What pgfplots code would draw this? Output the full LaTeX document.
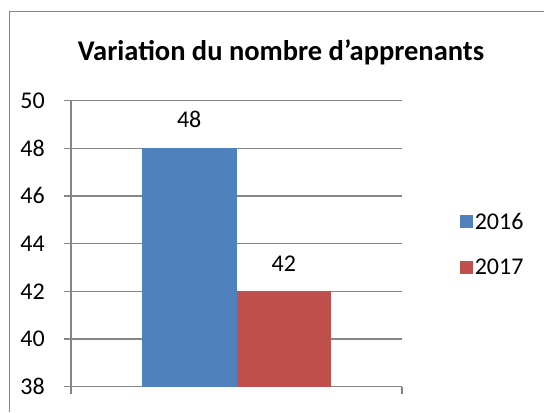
\documentclass[border=0pt]{standalone}
\usepackage{pgfplots}
\pgfplotsset{compat=1.18}
\usepackage{fontspec}
\setmainfont{Carlito}
\definecolor{bblue}{HTML}{4F81BD}
\definecolor{bred}{HTML}{C0504D}
\definecolor{gframe}{HTML}{868686}
\begin{document}
\begin{tikzpicture}[x=1bp,y=1bp]
\useasboundingbox (0,0) rectangle (544,412);
\draw[gframe, line width=1.2bp] (9.5,0) -- (9.5,400.5) -- (544,400.5);
\node[anchor=base, font=\fontsize{28.5bp}{32bp}\selectfont\bfseries, inner sep=0pt] at (281,352) {Variation du nombre d’apprenants};
\begin{axis}[
  at={(71bp,25.3bp)}, anchor=south west,
  scale only axis, width=331bp, height=286.2bp,
  xmin=-0.5, xmax=0.5, ymin=38, ymax=50,
  ytick={38,40,...,50},
  xtick={-0.5,0.5}, xticklabels={},
  axis x line*=bottom, axis y line*=left,
  axis line style={gframe, line width=1.2bp, -},
  tick style={gframe, line width=1.2bp},
  major tick length=7bp, tick align=outside,
  ymajorgrids, grid style={gframe, line width=1.2bp},
  tick label style={font=\fontsize{24bp}{28bp}\selectfont},
  /pgf/number format/assume math mode=true,
  yticklabel style={inner sep=0pt, xshift=-19bp},
  ybar=0pt, bar width=94.6bp,
  nodes near coords,
  every node near coord/.append style={font=\fontsize{24bp}{28bp}\selectfont, inner sep=0pt, anchor=south, yshift=20bp, text=black},
  legend image code/.code={\fill[#1] (0bp,-6.5bp) rectangle (13bp,6.5bp);},
  legend style={at={(1.174,0.615)}, anchor=north west, draw=none, inner sep=0pt, font=\fontsize{24bp}{28bp}\selectfont, row sep=24bp, cells={anchor=west}},
  legend cell align=left,
]
\addplot[fill=bblue, draw=none] coordinates {(0,48)};
\addplot[fill=bred, draw=none] coordinates {(0,42)};
\legend{2016,2017}
\end{axis}
\end{tikzpicture}
\end{document}
